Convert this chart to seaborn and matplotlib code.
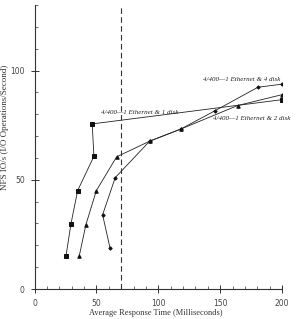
import matplotlib
matplotlib.use("Agg")
import matplotlib.pyplot as plt
import seaborn as sns
import pandas as pd
from matplotlib.ticker import MultipleLocator

# Data
disk1_x = [25.4, 29.4, 34.8, 48.0, 46.6, 200.0]
disk1_y = [15.0, 29.7, 45.0, 60.8, 75.6, 86.7]
disk2_x = [36.1, 41.5, 49.9, 66.3, 93.0, 118.0, 164.0, 200.0]
disk2_y = [15.0, 29.4, 45.0, 60.5, 67.7, 73.2, 84.0, 89.0]
disk4_x = [60.9, 55.0, 65.2, 93.0, 118.0, 146.0, 180.5, 200.0]
disk4_y = [19.0, 34.0, 51.0, 67.7, 73.2, 81.7, 92.4, 93.8]
labels = ["4/400\u20141 Ethernet & 1 disk", "4/400\u20141 Ethernet & 2 disk", "4/400\u20141 Ethernet & 4 disk"]
x_ticks = [0, 50, 100, 150, 200]
y_ticks = [0, 50, 100]
threshold = 70

sns.set_theme(style="white")
plt.rcParams['font.family'] = ['DejaVu Sans']

fig = plt.figure(figsize=(3.04, 3.19), dpi=100)
ax = fig.add_axes([0.1135, 0.094, 0.8145, 0.89])

series = [(disk1_x, disk1_y, 's', 2.2), (disk2_x, disk2_y, '^', 2.5), (disk4_x, disk4_y, 'D', 1.7)]
for xs, ys, m, ms in series:
    df = pd.DataFrame({"x": xs, "y": ys})
    sns.lineplot(data=df, x="x", y="y", sort=False, estimator=None, ax=ax,
                 color="#222222", lw=0.6, marker=m, markersize=ms,
                 markeredgecolor="#111111", markerfacecolor="#111111")

ax.axvline(threshold, color="#333333", lw=0.8, ls=(0, (5, 3)))

ax.set_xlim(0, 200)
ax.set_ylim(0, 130)
ax.set_xticks(x_ticks)
ax.set_yticks(y_ticks)
ax.xaxis.set_minor_locator(MultipleLocator(10))
ax.yaxis.set_minor_locator(MultipleLocator(10))
ax.tick_params(which='major', direction='inout', length=6, width=0.7, color='#333333',
               labelsize=5.5, labelcolor='#444444', pad=4, bottom=True, left=True)
ax.tick_params(which='minor', direction='in', length=2.5, width=0.6, color='#555555',
               bottom=True, left=True)
for s in ['top', 'right']:
    ax.spines[s].set_visible(False)
for s in ['left', 'bottom']:
    ax.spines[s].set_color('#333333')
    ax.spines[s].set_linewidth(0.8)

ax.set_xlabel("Average Response Time (Milliseconds)", fontsize=6, family='Liberation Serif', color='#333333')
ax.xaxis.set_label_coords(0.49, -0.072)
ax.set_ylabel("NFS IO/s (I/O Operations/Second)", fontsize=6.5, family='Liberation Serif', color='#333333')
ax.yaxis.set_label_coords(-0.101, 0.57)

tkw = dict(fontsize=5.0, family='Liberation Serif', style='italic', color='#222222', clip_on=False)
ax.text(53.6, 81, labels[0], ha='left', va='center', **tkw)
ax.text(144, 78, labels[1], ha='left', va='center', **tkw)
ax.text(135.9, 95.9, labels[2], ha='left', va='center', **tkw)

if ax.get_legend() is not None:
    ax.get_legend().remove()

fig.savefig("out.png", dpi=100)
